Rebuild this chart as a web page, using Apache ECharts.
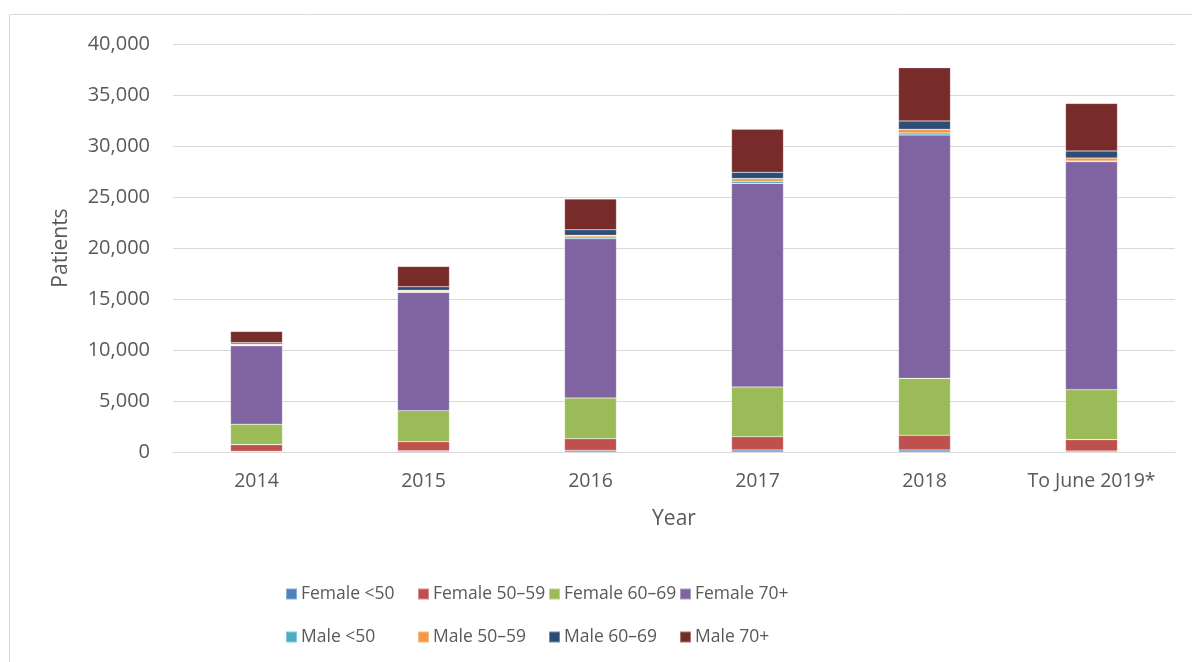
<!DOCTYPE html>
<html>
<head>
<meta charset="utf-8">
<script src="https://cdn.jsdelivr.net/npm/echarts@6/dist/echarts.min.js"></script>
<style>
  html, body { margin: 0; padding: 0; background: #fff; }
  #chart { width: 1192px; height: 662px; }
</style>
</head>
<body>
<div id="chart"></div>
<script>
const years = ['2014', '2015', '2016', '2017', '2018', 'To June 2019*']

const femaleUnder50 = [80, 110, 150, 200, 200, 100]
const female5059 = [640, 900, 1150, 1300, 1440, 1110]
const female6069 = [2000, 3040, 4000, 4870, 5580, 4900]
const female70 = [7700, 11600, 15610, 19970, 23860, 22350]
const maleUnder50 = [60, 100, 170, 200, 200, 70]
const male5059 = [100, 100, 160, 260, 360, 290]
const male6069 = [150, 350, 550, 620, 810, 690]
const male70 = [1100, 2000, 3010, 4220, 5230, 4670]

const seriesNames = ['Female <50', 'Female 50–59', 'Female 60–69', 'Female 70+',
	'Male <50', 'Male 50–59', 'Male 60–69', 'Male 70+']
const seriesData = [femaleUnder50, female5059, female6069, female70,
	maleUnder50, male5059, male6069, male70]
const colors = ['#4F81BD', '#C0504D', '#9BBB59', '#8064A2',
	'#4BACC6', '#F79646', '#2C4D75', '#772C2A']

const textColor = '#595959'
const font = '"Open Sans", "Noto Sans", sans-serif'

// legend is laid out as a 4x2 grid, one legend per cell
const legendCols = [285, 417, 548, 679]
const legendRows = [584, 627]

const chart = echarts.init(document.getElementById('chart'))

const option = {
	backgroundColor: '#fff',
	animation: false,
	color: colors,
	textStyle: { fontFamily: font },
	graphic: [{
		type: 'rect',
		shape: { x: 9.5, y: 14.5, width: 1200, height: 700 },
		style: { fill: 'none', stroke: '#d9d9d9', lineWidth: 1 },
		silent: true
	}],
	legend: seriesNames.map((name, i) => ({
		data: [name],
		left: legendCols[i % 4],
		top: legendRows[Math.floor(i / 4)],
		padding: 0,
		itemWidth: 11,
		itemHeight: 11,
		itemGap: 0,
		icon: 'rect',
		textStyle: {
			color: textColor,
			fontSize: 17.5,
			fontFamily: font,
			lineHeight: 20,
			padding: [0, 0, 0, -1]
		}
	})),
	grid: {
		left: 173,
		right: 17,
		top: 44,
		bottom: 210
	},
	xAxis: {
		type: 'category',
		data: years,
		name: 'Year',
		nameLocation: 'middle',
		nameGap: 57,
		nameTextStyle: { color: textColor, fontSize: 21, fontFamily: font },
		axisLine: { lineStyle: { color: '#d9d9d9', width: 1 } },
		axisTick: { show: false },
		axisLabel: { color: textColor, fontSize: 19.5, fontFamily: font, margin: 19 }
	},
	yAxis: {
		type: 'value',
		min: 0,
		max: 40000,
		interval: 5000,
		name: 'Patients',
		nameLocation: 'middle',
		nameGap: 101,
		nameTextStyle: { color: textColor, fontSize: 21, fontFamily: font },
		axisLine: { show: false },
		axisTick: { show: false },
		axisLabel: {
			color: textColor,
			fontSize: 20,
			fontFamily: font,
			margin: 23,
			formatter: v => v.toLocaleString('en-US')
		},
		splitLine: { lineStyle: { color: '#d9d9d9', width: 1 } }
	},
	series: seriesNames.map((name, i) => ({
		name: name,
		type: 'bar',
		stack: 'total',
		barWidth: 52,
		data: seriesData[i],
		itemStyle: {
			color: colors[i],
			borderColor: 'rgba(255,255,255,0.35)',
			borderWidth: 0.6
		}
	}))
}

chart.setOption(option)
</script>
</body>
</html>
